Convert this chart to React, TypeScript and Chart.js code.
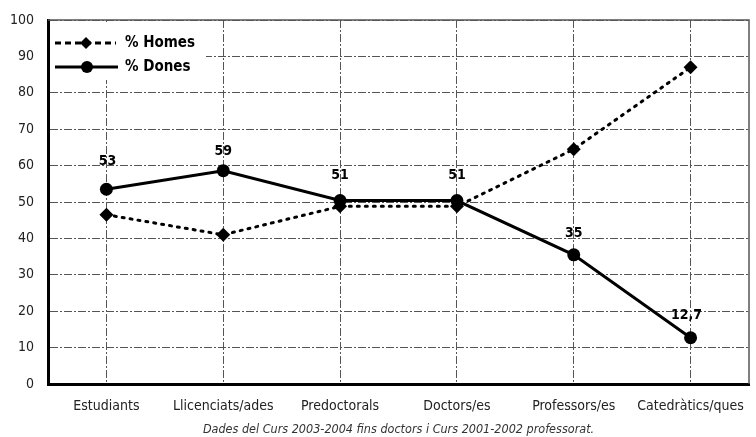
import React, { useEffect, useRef } from "react";
import { Chart, registerables } from "chart.js";

Chart.register(...registerables);

const categories = ["Estudiants", "Llicenciats/ades", "Predoctorals", "Doctors/es", "Professors/es", "Catedràtics/ques"];
const homes = [46.5, 41, 48.8, 48.8, 64.5, 87];
const dones = [53.5, 58.6, 50.4, 50.4, 35.5, 12.7];
const donesLabels = ["53", "59", "51", "51", "35", "12,7"];
const yTicks = [0, 10, 20, 30, 40, 50, 60, 70, 80, 90, 100];
const caption = "Dades del Curs 2003-2004 fins doctors i Curs 2001-2002 professorat.";

const FONT = "'DejaVu Sans Condensed', 'Liberation Sans Narrow', sans-serif";

export default function App() {
  const ref = useRef<HTMLCanvasElement | null>(null);
  useEffect(() => {
    if (!ref.current) return;
    const extras = {
      id: "extras",
      afterDraw(chart: any) {
        const ctx = chart.ctx;
        const a = chart.chartArea;
        ctx.save();
        // top & right border
        ctx.strokeStyle = "#555";
        ctx.lineWidth = 1.5;
        ctx.beginPath();
        ctx.moveTo(a.left, a.top);
        ctx.lineTo(a.right, a.top);
        ctx.lineTo(a.right, a.bottom);
        ctx.stroke();
        // data labels for Dones
        const meta = chart.getDatasetMeta(1);
        const lift = [28, 19, 25, 25, 21, 22];
        const shiftX = [1, 0, 0, 0, 0, -4];
        ctx.fillStyle = "#000";
        ctx.font = "bold 14px " + FONT;
        ctx.textAlign = "center";
        ctx.textBaseline = "middle";
        meta.data.forEach((p: any, i: number) => {
          ctx.fillText(donesLabels[i], p.x + shiftX[i], p.y - lift[i]);
        });
        // legend
        ctx.fillStyle = "#fff";
        ctx.fillRect(a.left + 2, a.top + 2, 156, 58);
        ctx.strokeStyle = "#000";
        ctx.lineWidth = 3;
        ctx.setLineDash([6, 4]);
        ctx.beginPath();
        ctx.moveTo(a.left + 7, a.top + 23);
        ctx.lineTo(a.left + 68, a.top + 23);
        ctx.stroke();
        ctx.setLineDash([]);
        ctx.fillStyle = "#000";
        const dx = a.left + 38, dy = a.top + 23;
        ctx.beginPath();
        ctx.moveTo(dx, dy - 6);
        ctx.lineTo(dx + 6, dy);
        ctx.lineTo(dx, dy + 6);
        ctx.lineTo(dx - 6, dy);
        ctx.closePath();
        ctx.fill();
        ctx.beginPath();
        ctx.moveTo(a.left + 7, a.top + 47);
        ctx.lineTo(a.left + 70, a.top + 47);
        ctx.stroke();
        ctx.beginPath();
        ctx.arc(a.left + 39, a.top + 47, 6, 0, Math.PI * 2);
        ctx.fill();
        ctx.font = "bold 15px " + FONT;
        ctx.textAlign = "left";
        ctx.fillText("% Homes", a.left + 77, a.top + 23);
        ctx.fillText("% Dones", a.left + 77, a.top + 47);
        ctx.restore();
      },
    };
    const chart = new Chart(ref.current, {
      type: "line",
      data: {
        labels: categories,
        datasets: [
          {
            label: "% Homes",
            data: homes,
            borderColor: "#000",
            backgroundColor: "#000",
            borderWidth: 3,
            borderDash: [2, 6],
            borderCapStyle: "round",
            pointStyle: "rectRot",
            pointRadius: 7,
            pointBorderWidth: 0,
            tension: 0,
          },
          {
            label: "% Dones",
            data: dones,
            borderColor: "#000",
            backgroundColor: "#000",
            borderWidth: 3,
            pointStyle: "circle",
            pointRadius: 6.5,
            pointBorderWidth: 0,
            tension: 0,
          },
        ],
      },
      options: {
        animation: false,
        responsive: false,
        maintainAspectRatio: false,
        devicePixelRatio: 1,
        layout: { padding: { left: 0, right: 3, top: 20, bottom: 0 } },
        plugins: { legend: { display: false }, tooltip: { enabled: false } },
        scales: {
          x: {
            type: "category",
            offset: true,
            grid: { offset: false, color: "#555", lineWidth: 1, drawTicks: false },
            border: { color: "#000", width: 3, dash: [8, 2, 2, 2] },
            ticks: { color: "#222", font: { family: FONT, size: 14 }, padding: 14, maxRotation: 0 },
            title: {
              display: true,
              text: caption,
              color: "#333",
              font: { family: FONT, size: 12.5, style: "italic" },
              padding: { top: 3, bottom: 0 },
            },
            afterFit: (s: any) => { s.height = 53; s.paddingRight = 0; s.paddingLeft = 0; },
          },
          y: {
            min: 0,
            max: 100,
            afterBuildTicks: (s: any) => { s.ticks = yTicks.map((v) => ({ value: v })); },
            grid: { color: "#555", lineWidth: 1, drawTicks: false },
            border: { color: "#000", width: 3, dash: [8, 2, 2, 2] },
            ticks: { color: "#222", font: { family: FONT, size: 14 }, padding: 14 },
            afterFit: (s: any) => { s.width = 48; s.paddingTop = 0; s.paddingBottom = 0; },
          },
        },
      },
      plugins: [extras],
    });
    return () => chart.destroy();
  }, []);
  return (
    <div style={{ position: "fixed", left: 0, top: 0, width: 756, height: 437, background: "#fff" }}>
      <canvas ref={ref} width={756} height={437} style={{ width: 756, height: 437 }} />
    </div>
  );
}
